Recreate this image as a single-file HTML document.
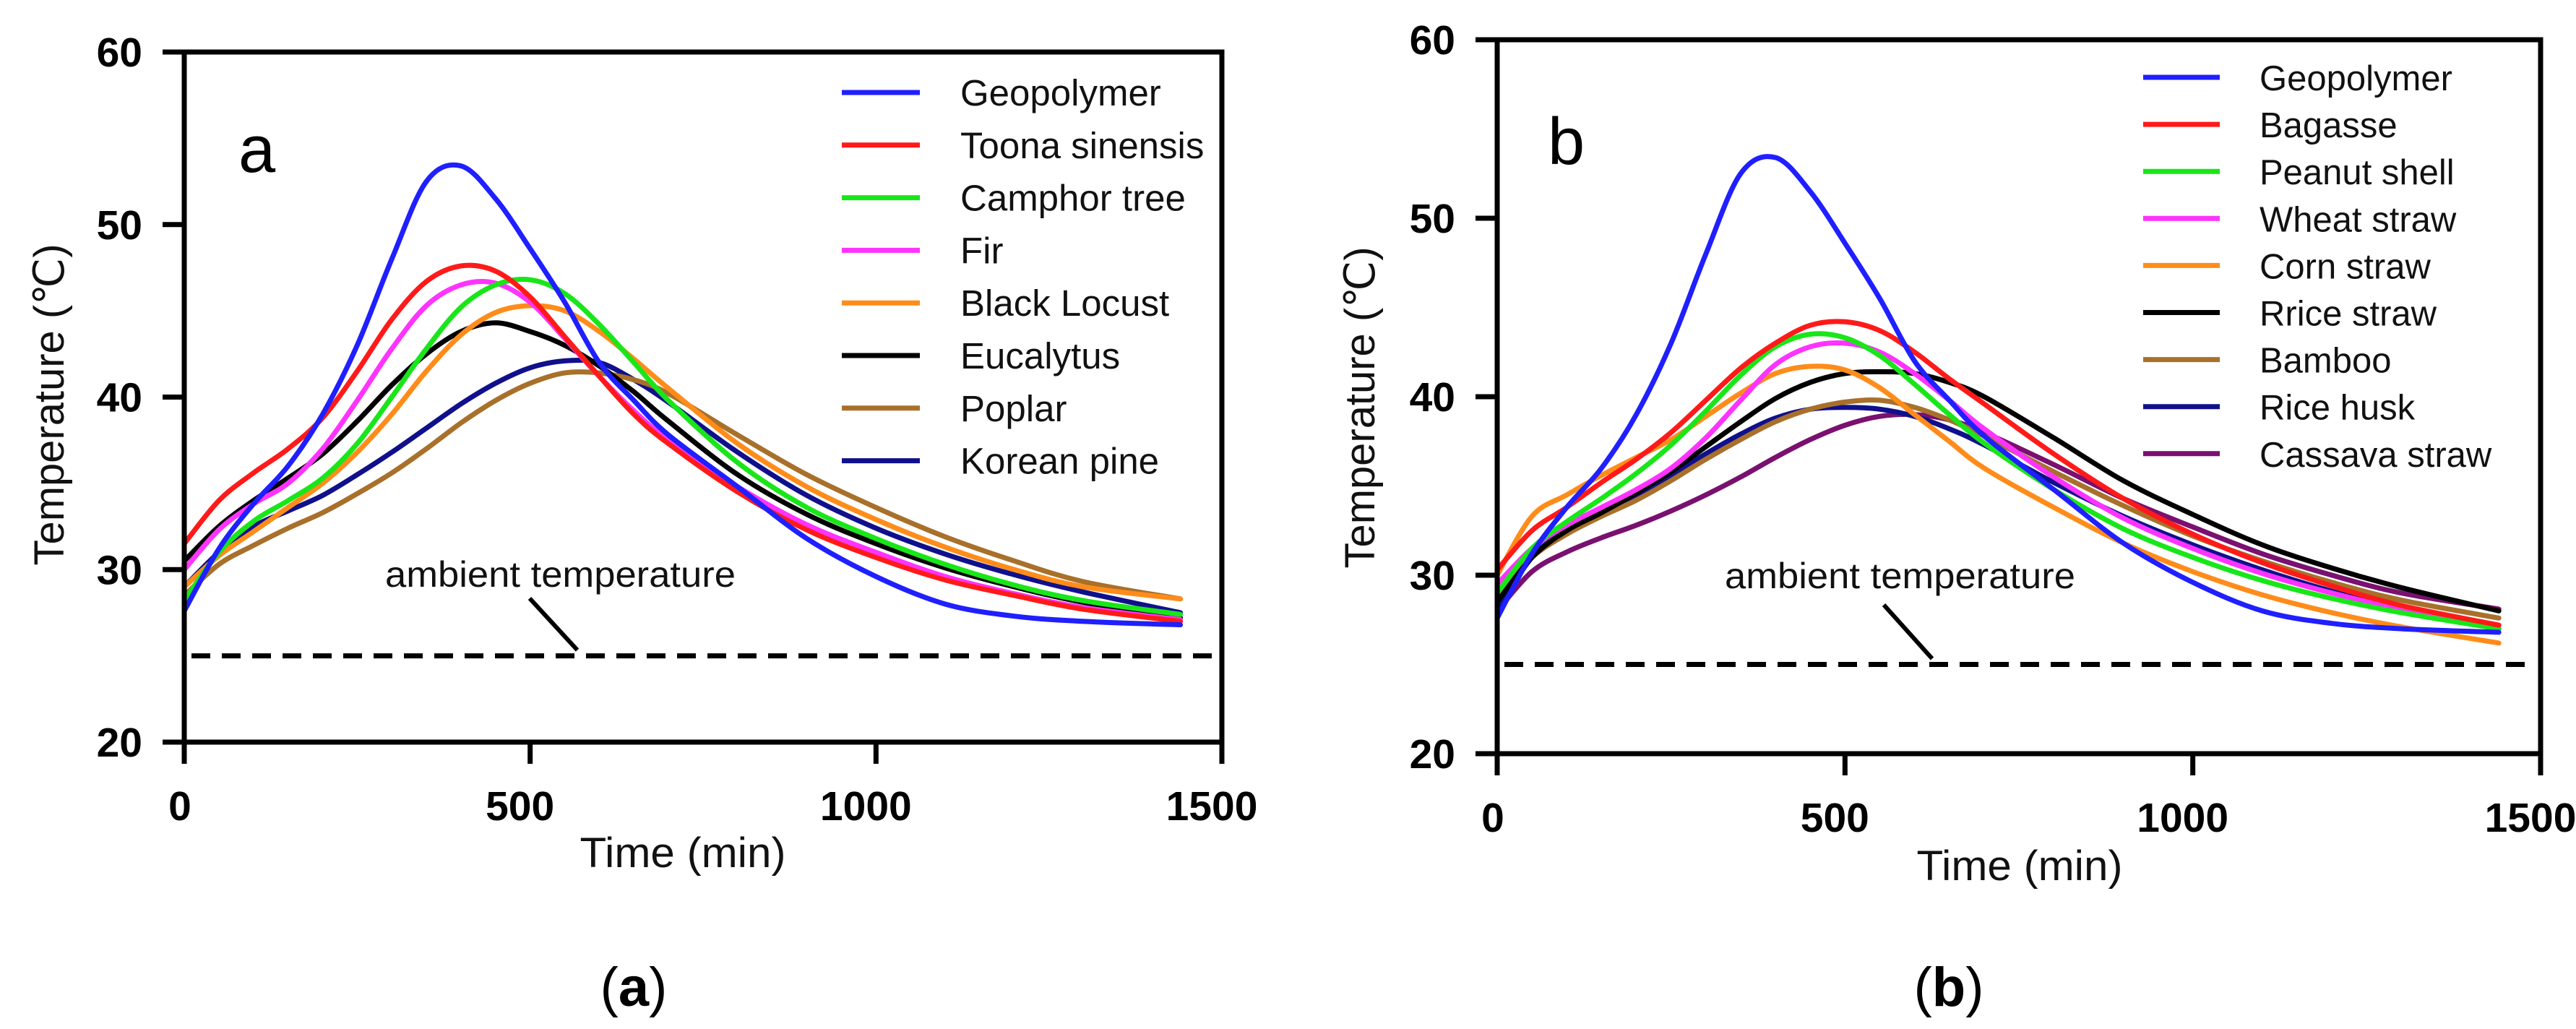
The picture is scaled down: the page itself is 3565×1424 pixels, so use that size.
<!DOCTYPE html>
<html><head><meta charset="utf-8"><style>
html,body{margin:0;padding:0;background:#fff;}
svg{display:block;}
text{font-family:"Liberation Sans",Arial,sans-serif;}
</style></head><body>
<svg id="fig" width="3565" height="1424" viewBox="0 0 3565 1424" xmlns="http://www.w3.org/2000/svg"></svg>
<script>
const times = [0,50,100,150,200,250,300,350,400,450,500,550,600,650,700,800,900,1000,1100,1200,1300,1440];
const xTicks = [0,500,1000,1500];
const yTicks = [20,30,40,50,60];
const ambientTemp = 25;

const namesA = ["Geopolymer","Toona sinensis","Camphor tree","Fir","Black Locust","Eucalytus","Poplar","Korean pine"];
const colorsA = ["#1f1fff","#ff1a1a","#19e619","#ff33ff","#ff8c1a","#000000","#a8702a","#10108c"];
const geoA = [27.6,31.2,33.8,36.0,39.0,43.0,48.0,52.5,53.4,51.5,48.6,45.5,42.0,39.8,37.8,34.8,31.8,29.6,28.0,27.3,27.0,26.8];
const toona = [31.5,34,35.6,37,38.8,41.5,44.5,46.7,47.6,47.3,45.8,43.5,41.2,39.0,37.3,34.5,32.3,30.7,29.4,28.5,27.7,27.0];
const camphor = [28.2,31,32.8,34.0,35.3,37.3,40,42.8,45.2,46.5,46.8,46.0,44.2,42.0,39.8,36.2,33.6,31.8,30.3,29.1,28.2,27.4];
const fir = [30,32.3,33.8,35,37,39.8,42.8,45.3,46.5,46.6,45.5,43.4,41.2,39.2,37.5,34.8,32.6,31.0,29.6,28.6,27.8,27.1];
const blackLocust = [29,30.8,32.2,33.6,35.0,36.8,39,41.5,43.6,44.9,45.3,45.0,43.8,42.2,40.5,37.3,34.8,32.9,31.3,30.0,29.0,28.3];
const eucalytus = [30.5,32.5,34,35.3,36.7,38.6,40.7,42.5,43.8,44.3,43.8,43.0,41.8,40.3,38.6,35.5,33.2,31.5,30.1,29.0,28.1,27.2];
const poplar = [28.5,30.3,31.4,32.4,33.3,34.4,35.6,37.0,38.5,39.8,40.8,41.4,41.4,41.0,40.2,37.8,35.5,33.6,31.9,30.5,29.3,28.3];
const koreanPine = [29,31,32.5,33.4,34.3,35.5,36.8,38.2,39.6,40.8,41.7,42.1,42.0,41.0,39.7,36.8,34.3,32.4,30.9,29.7,28.7,27.5];
const seriesA = [geoA,toona,camphor,fir,blackLocust,eucalytus,poplar,koreanPine];

const namesB = ["Geopolymer","Bagasse","Peanut shell","Wheat straw","Corn straw","Rrice straw","Bamboo","Rice husk","Cassava straw"];
const colorsB = ["#1f1fff","#ff1a1a","#19e619","#ff33ff","#ff8c1a","#000000","#a8702a","#10108c","#7a1070"];
const geoB = [27.6,31.2,33.8,36.0,39.0,43.0,48.0,52.5,53.4,51.5,48.6,45.5,42.0,39.8,37.8,34.8,31.8,29.6,28.0,27.3,27.0,26.8];
const bagasse = [30.3,32.5,33.8,35.2,36.5,38.0,39.8,41.6,43.0,44.0,44.2,43.7,42.5,41.0,39.6,36.8,34.3,32.3,30.7,29.4,28.3,27.2];
const peanut = [29,31.5,33,34.3,35.7,37.3,39.2,41.2,42.8,43.5,43.3,42.3,40.7,39.0,37.4,34.8,32.6,31.0,29.7,28.7,27.9,27.0];
const wheat = [29.5,31.5,32.8,33.8,34.8,36.0,37.7,39.8,41.8,42.8,43.0,42.5,41.3,39.8,38.2,35.5,33.2,31.5,30.1,29.0,28.1,27.2];
const corn = [30,33.3,34.5,35.6,36.6,37.6,38.9,40.2,41.3,41.7,41.5,40.5,39.0,37.5,36.0,33.8,31.8,30.2,28.9,27.9,27.1,26.2];
const riceStraw = [28.5,31,32.5,33.5,34.6,35.8,37.2,38.6,39.9,40.8,41.3,41.4,41.3,40.8,40.0,37.7,35.3,33.4,31.7,30.4,29.3,28.0];
const bamboo = [28.8,31,32.3,33.3,34.2,35.3,36.5,37.6,38.6,39.3,39.7,39.8,39.4,38.7,37.8,35.8,33.9,32.2,30.8,29.6,28.6,27.6];
const riceHusk = [28,31,32.5,33.4,34.4,35.6,36.8,37.9,38.8,39.3,39.4,39.3,38.9,38.2,37.3,35.2,33.3,31.7,30.3,29.1,28.1,27.0];
const cassava = [28,30.2,31.3,32.1,32.8,33.6,34.5,35.5,36.6,37.6,38.4,38.9,39.0,38.7,38.0,36.2,34.3,32.7,31.2,30.0,29.0,28.1];
const seriesB = [geoB,bagasse,peanut,wheat,corn,riceStraw,bamboo,riceHusk,cassava];

const NS = "http://www.w3.org/2000/svg";
const svg = document.getElementById('fig');
function mk(tag, attrs, parent, txt){
  const e = document.createElementNS(NS, tag);
  for (const k in attrs) e.setAttribute(k, attrs[k]);
  if (txt !== undefined) e.textContent = txt;
  (parent||svg).appendChild(e);
  return e;
}
function pathFrom(pts){
  let d = "M"+pts[0][0].toFixed(1)+","+pts[0][1].toFixed(1);
  for (let i=0;i<pts.length-1;i++){
    const p0=pts[Math.max(0,i-1)], p1=pts[i], p2=pts[i+1], p3=pts[Math.min(pts.length-1,i+2)];
    const c1=[p1[0]+(p2[0]-p0[0])/6, p1[1]+(p2[1]-p0[1])/6];
    const c2=[p2[0]-(p3[0]-p1[0])/6, p2[1]-(p3[1]-p1[1])/6];
    d += " C"+c1[0].toFixed(1)+","+c1[1].toFixed(1)+" "+c2[0].toFixed(1)+","+c2[1].toFixed(1)+" "+p2[0].toFixed(1)+","+p2[1].toFixed(1);
  }
  return d;
}

function panel(cfg){
  const g = mk('g', {});
  
  
  const X = t => cfg.x0 + (t/1500)*(cfg.x1-cfg.x0);
  const Y = v => cfg.y1 - (v-20)/40*(cfg.y1-cfg.y0);
  const sg = mk('g', {fill:'none','stroke-linejoin':'round','stroke-linecap':'round'}, g);
  
  
  for (let s=cfg.series.length-1;s>=0;s--){
    const pts = times.map((t,i)=>[X(t), Y(cfg.series[s][i])]);
    const p = mk('path', {d:pathFrom(pts), stroke:cfg.colors[s], 'stroke-width':7}, sg);
    
    
  }
  const amb = mk('line', {x1:cfg.x0+10, x2:cfg.x1-12, y1:Y(ambientTemp), y2:Y(ambientTemp), stroke:'#000','stroke-width':7,'stroke-dasharray':'26,16'}, g);
  
  
  const at = mk('text', {x:cfg.ambX, y:cfg.ambY, 'font-size':50, textLength:485, lengthAdjust:'spacingAndGlyphs', fill:'#111'}, g, 'ambient temperature');
  
  
  const ld = mk('line', {x1:cfg.lead[0], y1:cfg.lead[1], x2:cfg.lead[2], y2:Y(ambientTemp)-8, stroke:'#000','stroke-width':6}, g);
  
  
  const fr = mk('rect', {x:cfg.x0, y:cfg.y0, width:cfg.x1-cfg.x0, height:cfg.y1-cfg.y0, fill:'none', stroke:'#000','stroke-width':7}, g);
  
  
  xTicks.forEach(t=>{
    const l = mk('line', {x1:X(t), x2:X(t), y1:cfg.y1, y2:cfg.y1+30, stroke:'#000','stroke-width':7}, g);
    
    
    const tx = mk('text', {x:X(t)-(t>0?14:6), y:cfg.y1+108, 'font-size':57, 'font-weight':'bold', 'text-anchor':'middle'}, g, String(t));
    
    
  });
  yTicks.forEach(v=>{
    const l = mk('line', {x1:cfg.x0-30, x2:cfg.x0, y1:Y(v), y2:Y(v), stroke:'#000','stroke-width':7}, g);
    
    
    const tx = mk('text', {x:cfg.x0-58, y:Y(v)+20, 'font-size':57, 'font-weight':'bold', 'text-anchor':'end'}, g, String(v));
    
    
  });
  const xt = mk('text', {x:cfg.xTitleX, y:cfg.xTitleY, 'font-size':58, 'text-anchor':'middle', textLength:285, lengthAdjust:'spacingAndGlyphs', fill:'#111'}, g, 'Time (min)');
  
  
  const yt = mk('text', {x:0, y:0, 'font-size':58, 'text-anchor':'middle', textLength:445, lengthAdjust:'spacingAndGlyphs', fill:'#111', transform:'translate('+cfg.yTitleX+','+cfg.yTitleY+') rotate(-90)'}, g, 'Temperature (℃)');
  
  
  const pl = mk('text', {x:cfg.letter[0], y:cfg.letter[1], 'font-size':92, fill:'#000'}, g, cfg.id==='panel-a'?'a':'b');
  
  
  const lg = mk('g', {}, g);
  
  
  cfg.names.forEach((n,i)=>{
    const y = cfg.legY0 + i*cfg.legDy;
    const ln = mk('line', {x1:cfg.legX1, x2:cfg.legX2, y1:y, y2:y, stroke:cfg.colors[i], 'stroke-width':7}, lg);
    
    
    const tx = mk('text', {x:cfg.legTX, y:y+18, 'font-size':cfg.legFs, fill:'#111'}, lg, n);
    
    
  });
}

panel({id:'panel-a', x0:255, x1:1691, y0:72, y1:1027, series:seriesA, names:namesA, colors:colorsA,
  ambX:533, ambY:812, lead:[733,828,799], xTitleX:945, xTitleY:1200, yTitleX:88, yTitleY:560,
  letter:[330,238], legX1:1165, legX2:1273, legTX:1329, legY0:128, legDy:72.8, legFs:51});
panel({id:'panel-b', x0:2072, x1:3516, y0:55, y1:1043, series:seriesB, names:namesB, colors:colorsB,
  ambX:2387, ambY:814, lead:[2607,837,2674], xTitleX:2795, xTitleY:1218, yTitleX:1902, yTitleY:564,
  letter:[2142,227], legX1:2966, legX2:3072, legTX:3127, legY0:107, legDy:65.1, legFs:49});

const ca = mk('text', {x:877, y:1392, 'font-size':76, 'text-anchor':'middle', 'font-family':'"Liberation Serif",serif'}, svg);


ca.innerHTML = '(<tspan font-weight="bold">a</tspan>)';
const cb = mk('text', {x:2697, y:1392, 'font-size':76, 'text-anchor':'middle', 'font-family':'"Liberation Serif",serif'}, svg);


cb.innerHTML = '(<tspan font-weight="bold">b</tspan>)';
</script>
</body></html>
